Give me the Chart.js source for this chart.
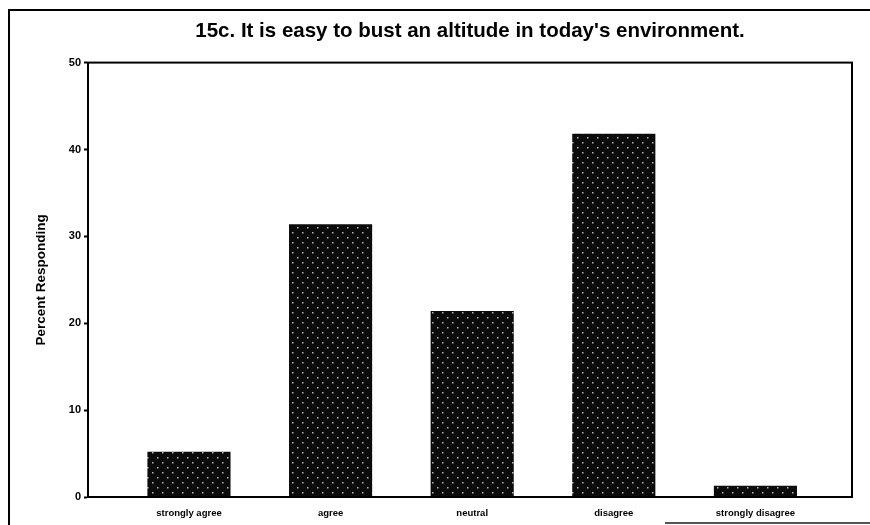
<!DOCTYPE html>
<html>
<head>
<meta charset="utf-8">
<script src="https://cdn.jsdelivr.net/npm/chart.js@4/dist/chart.umd.min.js"></script>
<style>
  html, body { margin: 0; padding: 0; background: #fff; }
  #wrap { width: 870px; height: 525px; position: relative; }
</style>
</head>
<body>
<div id="wrap"><canvas id="c" width="870" height="525"></canvas></div>
<script>
// Survey item 15c: share of respondents per answer
const titleText = "15c. It is easy to bust an altitude in today's environment.";
const categories = ["strongly agree", "agree", "neutral", "disagree", "strongly disagree"];
const percentResponding = [5.2, 31.4, 21.4, 41.8, 1.3];
const yTicks = [0, 10, 20, 30, 40, 50];

// Dark stipple fill for the bars
function stipple() {
  const p = document.createElement('canvas');
  p.width = 10; p.height = 10;
  const g = p.getContext('2d');
  g.fillStyle = '#0b0b0b';
  g.fillRect(0, 0, 10, 10);
  g.fillStyle = '#b8b8b8';
  g.fillRect(2, 2, 1.5, 1.5);
  g.fillRect(7, 7, 1.5, 1.5);
  return g.createPattern(p, 'repeat');
}

// Frame around the plot area plus the page frame lines
const framePlugin = {
  id: 'frames',
  afterDraw(chart) {
    const { ctx, chartArea: a } = chart;
    ctx.save();
    ctx.strokeStyle = '#000';
    ctx.lineWidth = 2;
    ctx.strokeRect(a.left, a.top, a.right - a.left, a.bottom - a.top);
    // page frame
    ctx.beginPath();
    ctx.moveTo(9, 525); ctx.lineTo(9, 10); ctx.lineTo(870, 10);
    ctx.stroke();
    ctx.strokeStyle = '#555';
    ctx.beginPath();
    ctx.moveTo(665, 523); ctx.lineTo(870, 523);
    ctx.stroke();
    ctx.restore();
  }
};

new Chart(document.getElementById('c'), {
  type: 'bar',
  data: {
    datasets: [{
      data: percentResponding.map((v, i) => ({ x: i, y: v })),
      backgroundColor: stipple(),
      borderWidth: 0,
      barPercentage: 0.587,
      categoryPercentage: 1
    }]
  },
  options: {
    responsive: false,
    animation: false,
    devicePixelRatio: 1,
    layout: { padding: { left: 0, right: 18, top: 0, bottom: 0 } },
    plugins: {
      legend: { display: false },
      tooltip: { enabled: false },
      title: {
        display: true,
        text: titleText,
        fullSize: false,
        color: '#000',
        font: { family: 'Liberation Sans, Arial, sans-serif', size: 20.5, weight: 'bold' },
        padding: { top: 19, bottom: 19 }
      }
    },
    scales: {
      x: {
        type: 'linear',
        offset: false,
        min: -0.713,
        max: 4.682,
        grid: { display: false },
        border: { display: true, color: '#000', width: 2 },
        afterBuildTicks(scale) {
          scale.ticks = categories.map((_, i) => ({ value: i }));
        },
        afterFit(scale) { scale.height = 28; },
        ticks: {
          autoSkip: false,
          maxRotation: 0,
          padding: 3,
          color: '#000',
          font: { family: 'Liberation Sans, Arial, sans-serif', size: 9.5, weight: 'bold' },
          callback: (v) => categories[v] ?? ''
        }
      },
      y: {
        min: 0,
        max: 50,
        afterBuildTicks(scale) {
          scale.ticks = yTicks.map(v => ({ value: v }));
        },
        afterFit(scale) { scale.width = 88; },
        grid: { display: true, drawOnChartArea: false, drawTicks: true, tickLength: 4, tickWidth: 2, tickColor: '#000' },
        border: { display: true, color: '#000', width: 2 },
        ticks: {
          padding: 3,
          color: '#000',
          font: { family: 'Liberation Sans, Arial, sans-serif', size: 11, weight: 'bold' }
        },
        title: {
          display: true,
          text: 'Percent Responding',
          color: '#000',
          font: { family: 'Liberation Sans, Arial, sans-serif', size: 13.5, weight: 'bold' },
          padding: { top: 33, bottom: 0 }
        }
      }
    }
  },
  plugins: [framePlugin]
});
</script>
</body>
</html>
